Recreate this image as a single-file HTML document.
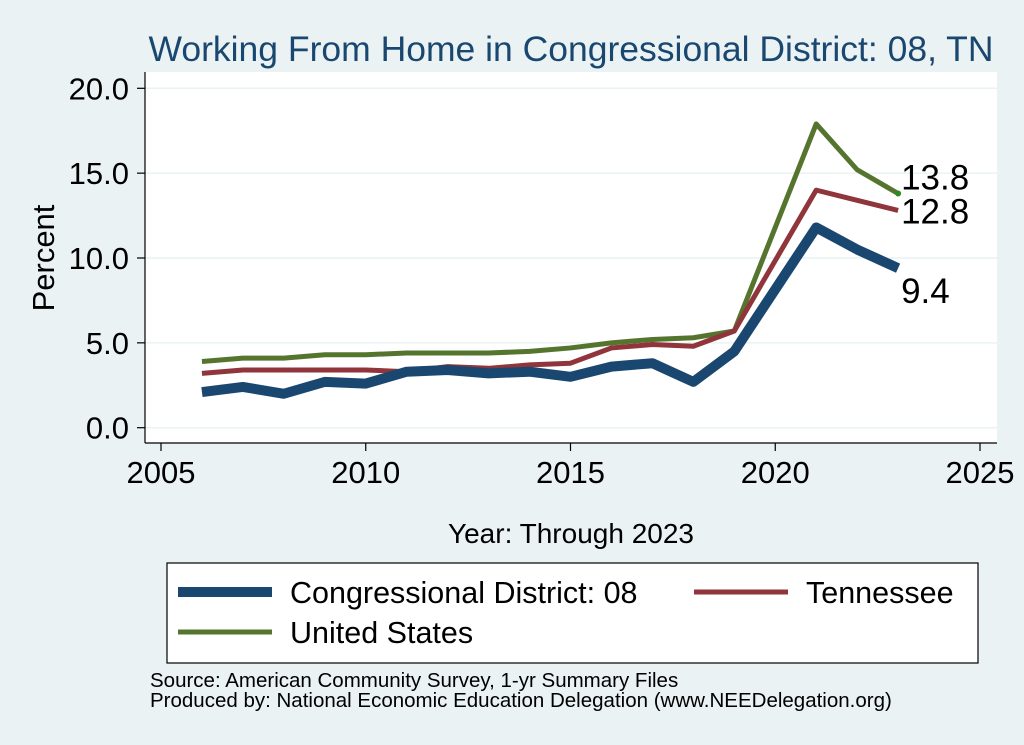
<!DOCTYPE html>
<html><head><meta charset="utf-8"><style>
body{margin:0;background:#eaf2f3;font-family:"Liberation Sans",sans-serif;}
svg{display:block}
</style></head><body>
<svg width="1024" height="745" xmlns="http://www.w3.org/2000/svg">
<rect x="0" y="0" width="1024" height="745" fill="#eaf2f3"/>
<text x="571" y="61" font-size="35.5" fill="#1a476f" text-anchor="middle">Working From Home in Congressional District: 08, TN</text>
<rect x="145" y="72" width="852" height="371" fill="#fff"/>
<g id="grid"></g>
<g id="axes"></g>
<g id="series"></g>
<text x="54" y="258" font-size="31" transform="rotate(-90 54 258)" text-anchor="middle">Percent</text>
<text x="571" y="543" font-size="28" text-anchor="middle">Year: Through 2023</text>
<g>
<rect x="167" y="563" width="811" height="100" fill="#fff" stroke="#000" stroke-width="1.2"/>
<line x1="178" y1="592" x2="272" y2="592" stroke="#1a476f" stroke-width="10"/>
<text x="290" y="603" font-size="30.5">Congressional District: 08</text>
<line x1="694" y1="592" x2="788" y2="592" stroke="#90353b" stroke-width="5"/>
<text x="806" y="603" font-size="30.5">Tennessee</text>
<line x1="178" y1="632" x2="272" y2="632" stroke="#55752f" stroke-width="5"/>
<text x="290" y="643" font-size="30.5">United States</text>
</g>
<text x="150" y="687" font-size="20.5">Source: American Community Survey, 1-yr Summary Files</text>
<text x="150" y="707" font-size="20.5">Produced by: National Economic Education Delegation (www.NEEDelegation.org)</text>
</svg>
<script>
const years=[2006,2007,2008,2009,2010,2011,2012,2013,2014,2015,2016,2017,2018,2019,2021,2022,2023];
const cd08=[2.1,2.4,2.0,2.7,2.6,3.3,3.4,3.2,3.3,3.0,3.6,3.8,2.7,4.5,11.8,10.5,9.4];
const tn=[3.2,3.4,3.4,3.4,3.4,3.3,3.6,3.5,3.7,3.8,4.7,4.9,4.8,5.7,14.0,13.4,12.8];
const us=[3.9,4.1,4.1,4.3,4.3,4.4,4.4,4.4,4.5,4.7,5.0,5.2,5.3,5.7,17.9,15.2,13.8];
const yTicks=[0,5,10,15,20];
const xTicks=[2005,2010,2015,2020,2025];
const NS="http://www.w3.org/2000/svg";
const xs=v=>161+(v-2005)*40.95;
const ys=v=>427.7-v*16.97;
function mk(tag,attrs,parent){const e=document.createElementNS(NS,tag);for(const k in attrs)e.setAttribute(k,attrs[k]);parent.appendChild(e);return e;}
const grid=document.getElementById('grid'),axes=document.getElementById('axes'),ser=document.getElementById('series');
yTicks.forEach(t=>{
 const g=mk('line',{x1:145,x2:997,y1:ys(t),y2:ys(t),stroke:'#eaf2f3','stroke-width':1.5},grid);
 
 
 const tk=mk('line',{x1:137,x2:145,y1:ys(t),y2:ys(t),stroke:'#000','stroke-width':1.2},axes);
 
 
 const tx=mk('text',{x:129,y:ys(t)+11,'font-size':31,'text-anchor':'end'},axes);
 tx.textContent=t.toFixed(1);
 
 
});
xTicks.forEach(t=>{
 const tk=mk('line',{x1:xs(t),x2:xs(t),y1:443,y2:451,stroke:'#000','stroke-width':1.2},axes);
 
 
 const tx=mk('text',{x:xs(t),y:483,'font-size':31,'text-anchor':'middle'},axes);
 tx.textContent=t;
 
 
});
const ya=mk('line',{x1:145,x2:145,y1:72,y2:443,stroke:'#000','stroke-width':1.2},axes);


const xa=mk('line',{x1:145,x2:997,y1:443,y2:443,stroke:'#000','stroke-width':1.2},axes);


function draw(vals,color,w,name){
 const p=mk('polyline',{points:years.map((y,i)=>xs(y)+','+ys(vals[i])).join(' '),fill:'none',stroke:color,'stroke-width':w,'stroke-linejoin':'round'},ser);
 
 
}
draw(us,'#55752f',5,'line-us');
draw(tn,'#90353b',5,'line-tn');
draw(cd08,'#1a476f',10,'line-cd08');
const n=years.length-1;
const dot=mk('circle',{cx:xs(years[n]),cy:ys(us[n]),r:3,fill:'#2e8b22'},ser);


[[us,ys(us[n])-4,'label-us'],[tn,ys(tn[n])+13,'label-tn'],[cd08,ys(cd08[n])+35,'label-cd08']].forEach(([v,yy,nm])=>{
 const t=mk('text',{x:xs(years[n])+3,y:yy,'font-size':35},ser);
 t.textContent=v[n].toFixed(1);
 
 
});
</script>
</body></html>
